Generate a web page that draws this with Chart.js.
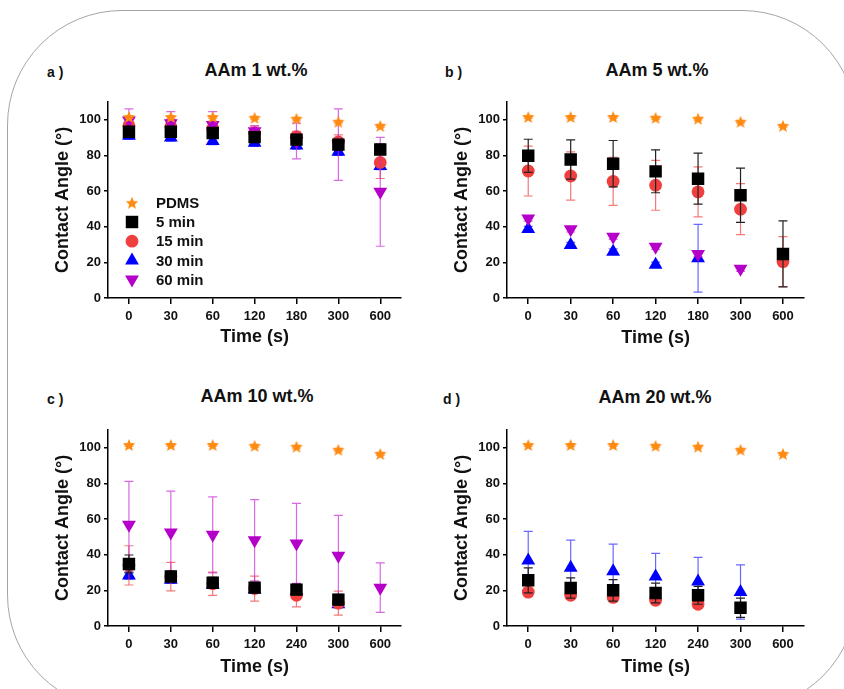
<!DOCTYPE html>
<html>
<head>
<meta charset="utf-8">
<script src="https://cdn.jsdelivr.net/npm/chart.js@4.4.1/dist/chart.umd.min.js"></script>
<style>
  html, body { margin: 0; padding: 0; background: #fff; }
  body { width: 844px; height: 689px; overflow: hidden; position: relative; font-family: "Liberation Sans", Arial, sans-serif; }
  .frame { position: absolute; left: 7px; top: 10px; width: 850px; height: 700px; border: 1.5px solid #a5a5a5; border-radius: 115px; box-sizing: border-box; }
  .tag { position: absolute; font-weight: bold; font-size: 14px; color: #111; transform: translateY(-50%); white-space: pre; }
  .ttl { position: absolute; font-weight: bold; font-size: 18px; color: #111; transform: translate(-50%, -50%); white-space: nowrap; }
  canvas { position: absolute; }
</style>
</head>
<body>
<div class="frame"></div>

<div class="tag" style="left:47px;top:72px">a )</div>
<div class="tag" style="left:445px;top:72px">b )</div>
<div class="tag" style="left:47px;top:399px">c )</div>
<div class="tag" style="left:443px;top:399px">d )</div>

<div class="ttl" style="left:256px;top:70px">AAm 1 wt.%</div>
<div class="ttl" style="left:657px;top:70px">AAm 5 wt.%</div>
<div class="ttl" style="left:257px;top:396px">AAm 10 wt.%</div>
<div class="ttl" style="left:655px;top:397px">AAm 20 wt.%</div>

<canvas id="ca" width="370" height="266" style="left:40px;top:91px"></canvas>
<canvas id="cb" width="374" height="266" style="left:439px;top:91px"></canvas>
<canvas id="cc" width="370" height="266" style="left:40px;top:419px"></canvas>
<canvas id="cd" width="374" height="266" style="left:439px;top:419px"></canvas>

<script>
// tick labels / categories
const TIMES_A = ['0', '30', '60', '120', '180', '300', '600'];
const TIMES_B = ['0', '30', '60', '120', '240', '300', '600'];
const Y_TICKS = [0, 20, 40, 60, 80, 100];
const SERIES = ['PDMS', '5 min', '15 min', '30 min', '60 min'];

// PDMS reference (same in every panel)
const pdms    = [101.5, 101.5, 101.5, 101, 100.5, 98.8, 96.5];
const pdmsErr = [0.8, 0.8, 0.8, 0.8, 0.8, 0.8, 0.8];

// a) AAm 1 wt.%
const a5   = [93.2, 93.2, 92.5, 90.2, 88.8, 86, 83.3];
const a5e  = [3, 3, 3, 3, 3, 3, 3];
const a15  = [96.5, 96, 95, 92.5, 90.5, 87.5, 76];
const a15e = [4, 4, 4, 4, 3, 4, 9];
const a30  = [91, 90, 88, 87, 85.5, 82, 74];
const a30e = [2, 2, 2, 2, 2, 2, 2];
const a60  = [99.5, 98, 97, 93.5, 88, 86, 59.5];
const a60e = [6.5, 6.5, 7.5, 3, 10, 20, 30.5];

// b) AAm 5 wt.%
const b5   = [79.7, 77.7, 75.3, 71, 66.9, 57.6, 24.7];
const b5e  = [9.3, 11, 13, 12, 14.3, 15.2, 18.5];
const b15  = [71.2, 68.4, 65.4, 63.2, 59.5, 49.8, 20.4];
const b15e = [14, 13.5, 13.5, 14, 14, 14.3, 14];
const b30  = [38.7, 29.7, 26, 18.6, 22.3, null, null];
const b30e = [1.5, 1.5, 1.5, 1.5, 19, null, null];
const b60  = [44.6, 38.5, 34.4, 28.8, 24.7, 16.4, null];
const b60e = [1.5, 1.5, 1.5, 1.5, 1.5, 1.5, null];

// c) AAm 10 wt.%
const c5   = [34.8, 27.8, 24.3, 21.5, 20.4, 14.8, null];
const c5e  = [5, 3, 3, 3, 3, 3, null];
const c15  = [34, 27.7, 23.7, 21, 17.2, 12.8, null];
const c15e = [11, 8, 6.5, 7, 6.5, 6.7, null];
const c30  = [28.3, 25.9, 23.3, 20.4, 19.6, 12.2, null];
const c30e = [2, 2, 2, 2, 2, 2, null];
const c60  = [56.7, 52.4, 51.1, 48.1, 46.3, 39.4, 21.5];
const c60e = [24.4, 23.2, 21.3, 22.8, 22.4, 22.6, 13.9];

// d) AAm 20 wt.%
const d5   = [25.6, 21.3, 20, 18.5, 17.2, 10.2, null];
const d5e  = [7, 5.7, 6, 5.5, 5, 5.4, null];
const d15  = [19, 17.2, 16, 14.4, 12.2, null, null];
const d15e = [2, 2, 2, 2, 2, null, null];
const d30  = [36.7, 32.6, 30.7, 27.8, 25, 19.1, null];
const d30e = [16.3, 15.5, 15.2, 12.9, 13.5, 15.2, null];
const d60  = [null, null, null, null, null, null, null];
const d60e = [null, null, null, null, null, null, null];

const FONT = '"Liberation Sans", Arial, sans-serif';
const ORANGE = '#ff8a12', RED = '#ef3f3f', BLUE = '#0000ff', PURPLE = 'rgb(180,0,200)';

function makeStar(color, R) {
  const c = document.createElement('canvas');
  const s = Math.ceil(R * 2 + 2);
  c.width = c.height = s;
  const g = c.getContext('2d');
  g.fillStyle = color;
  g.beginPath();
  for (let k = 0; k < 10; k++) {
    const r = k % 2 ? R * 0.45 : R;
    const a = -Math.PI / 2 + k * Math.PI / 5;
    g.lineTo(s / 2 + r * Math.cos(a), s / 2 + 0.6 + r * Math.sin(a));
  }
  g.closePath();
  g.fill();
  return c;
}
const starImg = makeStar(ORANGE, 6.6);

const STYLE = {
  'PDMS':   { pointStyle: starImg, pointRadius: 7, backgroundColor: ORANGE, borderColor: ORANGE, errColor: 'rgba(255,138,18,0.7)', order: 1 },
  '5 min':  { pointStyle: 'rect', pointRadius: 8.8, backgroundColor: '#000', borderColor: '#000', errColor: '#222', order: 0 },
  '15 min': { pointStyle: 'circle', pointRadius: 6.4, backgroundColor: RED, borderColor: RED, errColor: 'rgba(239,63,63,0.7)', order: 3 },
  '30 min': { pointStyle: 'triangle', pointRadius: 8, backgroundColor: BLUE, borderColor: BLUE, errColor: 'rgba(40,40,255,0.7)', order: 4 },
  '60 min': { pointStyle: 'triangle', pointRotation: 180, pointRadius: 8, backgroundColor: PURPLE, borderColor: PURPLE, errColor: 'rgba(200,40,215,0.7)', order: 2 },
};

function buildDatasets(rows) {
  return rows.map(([name, data, err]) => Object.assign({
    label: name, data, err, showLine: false, pointBorderWidth: 0, pointHoverRadius: 0
  }, STYLE[name], { pointRotation: STYLE[name].pointRotation || 0 }));
}

// vertical SD bars with caps, drawn just under each dataset's markers
const errorBars = {
  id: 'errorBars',
  beforeDatasetDraw(chart, args) {
    const ds = chart.data.datasets[args.index];
    if (!ds.err) return;
    const y = chart.scales.y, ctx = chart.ctx;
    ctx.save();
    ctx.strokeStyle = ds.errColor;
    ctx.lineWidth = 1.2;
    args.meta.data.forEach((pt, i) => {
      const v = ds.data[i], e = ds.err[i];
      if (v == null || !e) return;
      const top = y.getPixelForValue(v + e), bot = y.getPixelForValue(Math.max(0, v - e));
      ctx.beginPath();
      ctx.moveTo(pt.x, top); ctx.lineTo(pt.x, bot);
      ctx.moveTo(pt.x - 4.5, top); ctx.lineTo(pt.x + 4.5, top);
      ctx.moveTo(pt.x - 4.5, bot); ctx.lineTo(pt.x + 4.5, bot);
      ctx.stroke();
    });
    ctx.restore();
  }
};

function drawMarker(ctx, ds, x, y) {
  const r = ds.pointRadius;
  ctx.fillStyle = ds.backgroundColor;
  if (typeof ds.pointStyle !== 'string') {
    const img = ds.pointStyle;
    ctx.drawImage(img, x - img.width / 2, y - img.height / 2);
    return;
  }
  ctx.beginPath();
  if (ds.pointStyle === 'rect') {
    const h = r * Math.SQRT1_2;
    ctx.rect(x - h, y - h, 2 * h, 2 * h);
  } else if (ds.pointStyle === 'circle') {
    ctx.arc(x, y, r, 0, Math.PI * 2);
  } else {
    const rot = (ds.pointRotation || 0) * Math.PI / 180;
    for (let k = 0; k < 3; k++) {
      const a = rot + k * 2 * Math.PI / 3;
      ctx.lineTo(x + Math.sin(a) * r, y - Math.cos(a) * r);
    }
    ctx.closePath();
  }
  ctx.fill();
}

// legend inside panel a
const innerLegend = {
  id: 'innerLegend',
  afterDraw(chart, args, opts) {
    if (!opts.show) return;
    const ctx = chart.ctx, area = chart.chartArea;
    ctx.save();
    chart.data.datasets.forEach((ds, i) => {
      const cx = area.left + 24, cy = area.top + 101 + i * 19.2;
      drawMarker(ctx, ds, cx, cy);
      ctx.fillStyle = '#111';
      ctx.font = 'bold 15px ' + FONT;
      ctx.textBaseline = 'middle';
      ctx.fillText(ds.label, area.left + 48, cy + 1);
    });
    ctx.restore();
  }
};

function makeScales(labels, p) {
  const tickFont = { family: FONT, size: 13, weight: 'bold' };
  const titleFont = { family: FONT, size: 18, weight: 'bold' };
  return {
    x: {
      type: 'category', labels, offset: true,
      grid: { display: true, drawOnChartArea: false, drawTicks: true, tickLength: 6, color: '#000', lineWidth: 1.5 },
      border: { display: true, color: '#000', width: 1.5 },
      ticks: { color: '#111', font: tickFont, padding: 5, maxRotation: 0, autoSkip: false },
      title: { display: true, text: 'Time (s)', color: '#111', font: titleFont, padding: { top: 0, bottom: p.xTitlePad } },
      afterFit: s => { s.height = p.xH; }
    },
    y: {
      type: 'linear', min: 0, max: 110,
      afterBuildTicks: s => { s.ticks = Y_TICKS.map(v => ({ value: v })); },
      grid: { display: true, drawOnChartArea: false, drawTicks: true, tickLength: 4, color: '#000', lineWidth: 1.5 },
      border: { display: true, color: '#000', width: 1.5 },
      ticks: { color: '#111', font: tickFont, padding: 3 },
      title: { display: true, text: 'Contact Angle (°)', color: '#111', font: titleFont, padding: { top: p.yTitlePad, bottom: 0 } },
      afterFit: s => { s.width = p.yW; }
    }
  };
}

function makePanel(id, labels, rows, p) {
  new Chart(document.getElementById(id), {
    type: 'line',
    data: { labels, datasets: buildDatasets(rows) },
    options: {
      responsive: false, animation: false, devicePixelRatio: 1,
      layout: { padding: { left: 0, top: 5, right: 8, bottom: 0 } },
      scales: makeScales(labels, p),
      plugins: { legend: { display: false }, tooltip: { enabled: false }, innerLegend: { show: !!p.legend } },
      events: []
    },
    plugins: [errorBars, innerLegend]
  });
}

makePanel('ca', TIMES_A, [
  [SERIES[0], pdms, pdmsErr], [SERIES[1], a5, a5e], [SERIES[2], a15, a15e], [SERIES[3], a30, a30e], [SERIES[4], a60, a60e]
], { yW: 68, xH: 59, yTitlePad: 12.2, xTitlePad: 9.2, legend: true });

makePanel('cb', TIMES_A, [
  [SERIES[0], pdms, pdmsErr], [SERIES[1], b5, b5e], [SERIES[2], b15, b15e], [SERIES[3], b30, b30e], [SERIES[4], b60, b60e]
], { yW: 68, xH: 59, yTitlePad: 12.2, xTitlePad: 8.2 });

makePanel('cc', TIMES_B, [
  [SERIES[0], pdms, pdmsErr], [SERIES[1], c5, c5e], [SERIES[2], c15, c15e], [SERIES[3], c30, c30e], [SERIES[4], c60, c60e]
], { yW: 68, xH: 59, yTitlePad: 12.2, xTitlePad: 7.2 });

makePanel('cd', TIMES_B, [
  [SERIES[0], pdms, pdmsErr], [SERIES[1], d5, d5e], [SERIES[2], d15, d15e], [SERIES[3], d30, d30e], [SERIES[4], d60, d60e]
], { yW: 68, xH: 59, yTitlePad: 12.2, xTitlePad: 7.2 });
</script>
</body>
</html>
